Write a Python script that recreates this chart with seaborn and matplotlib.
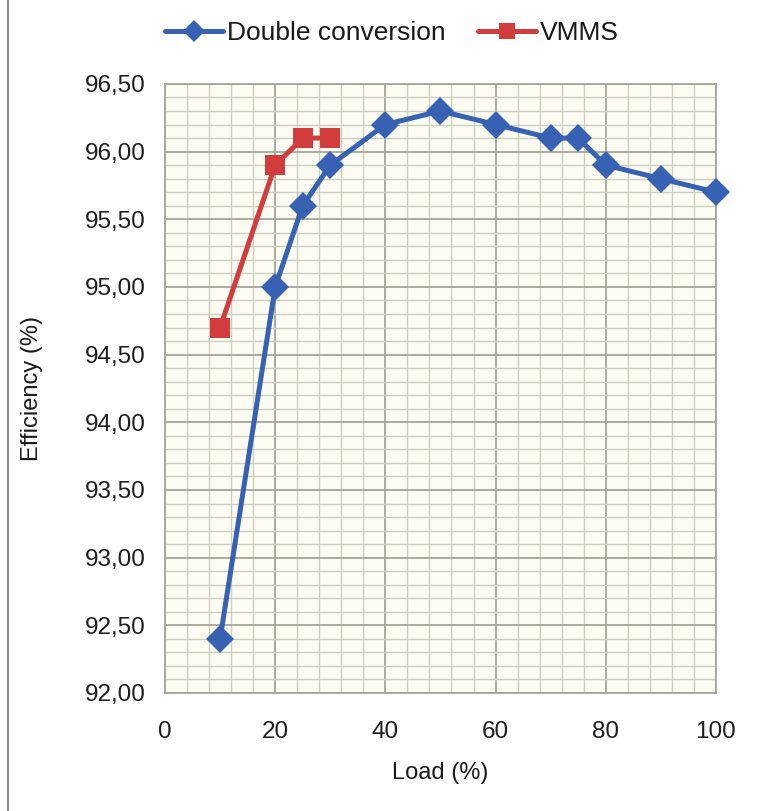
import pandas as pd
import matplotlib
matplotlib.use("Agg")
import matplotlib.pyplot as plt
from matplotlib.ticker import MultipleLocator, FuncFormatter
import seaborn as sns

# data
load_dc = [10, 20, 25, 30, 40, 50, 60, 70, 75, 80, 90, 100]
eff_dc = [92.4, 95.0, 95.6, 95.9, 96.2, 96.3, 96.2, 96.1, 96.1, 95.9, 95.8, 95.7]
load_vmms = [10, 20, 25, 30]
eff_vmms = [94.7, 95.9, 96.1, 96.1]

df = pd.concat([
    pd.DataFrame({"load": load_dc, "eff": eff_dc, "series": "Double conversion"}),
    pd.DataFrame({"load": load_vmms, "eff": eff_vmms, "series": "VMMS"}),
])

sns.set_style("white")
plt.rcParams["font.family"] = ["Liberation Sans", "DejaVu Sans"]

fig = plt.figure(figsize=(7.62, 8.11), dpi=100)
ax = fig.add_axes([0.2165, 0.1455, 0.7231, 0.751])
ax.set_facecolor("#fcfcf2")

palette = {"Double conversion": "#3762b3", "VMMS": "#d23c3c"}
markers = {"Double conversion": "D", "VMMS": "s"}
sns.lineplot(data=df, x="load", y="eff", hue="series", style="series",
             palette=palette, markers=markers, dashes=False, linewidth=3.6,
             markersize=14, markeredgewidth=0, ax=ax, zorder=5, clip_on=False)

ax.set_xlim(0, 100)
ax.set_ylim(92, 96.5)
ax.xaxis.set_major_locator(MultipleLocator(20))
ax.xaxis.set_minor_locator(MultipleLocator(4))
ax.yaxis.set_major_locator(MultipleLocator(0.5))
ax.yaxis.set_minor_locator(MultipleLocator(0.1))
ax.yaxis.set_major_formatter(FuncFormatter(lambda v, p: f"{v:.2f}".replace(".", ",")))

ax.grid(which="major", color="#a4a698", linewidth=1.3)
ax.grid(which="minor", color="#cdcfbf", linewidth=1.0)
ax.set_axisbelow(True)
for s in ax.spines.values():
    s.set_color("#a4a698")
    s.set_linewidth(1.3)
ax.tick_params(axis="both", which="major", labelsize=17.5, colors="#1e1e1e",
               length=6, color="#a4a698", direction="out", pad=14)
ax.tick_params(axis="y", pad=8)
ax.tick_params(which="minor", length=0)

ax.set_xlabel("Load (%)", fontsize=17, color="#1a1a1a", labelpad=14)
ax.set_ylabel("Efficiency (%)", fontsize=17, color="#1a1a1a", labelpad=30)

leg = ax.legend(loc="center", bbox_to_anchor=(0.412, 1.083), ncol=2, frameon=False,
                fontsize=19, handlelength=2.2, columnspacing=1.25, handletextpad=0.15)
for t in leg.get_texts():
    t.set_color("#1a1a1a")
for h in leg.legend_handles:
    h.set_markersize(11)

# page edge on the left
fig.add_artist(plt.Line2D([0.01, 0.01], [0, 1], color="#888888", linewidth=1.5))

fig.savefig("out.png", dpi=100, facecolor="white")
